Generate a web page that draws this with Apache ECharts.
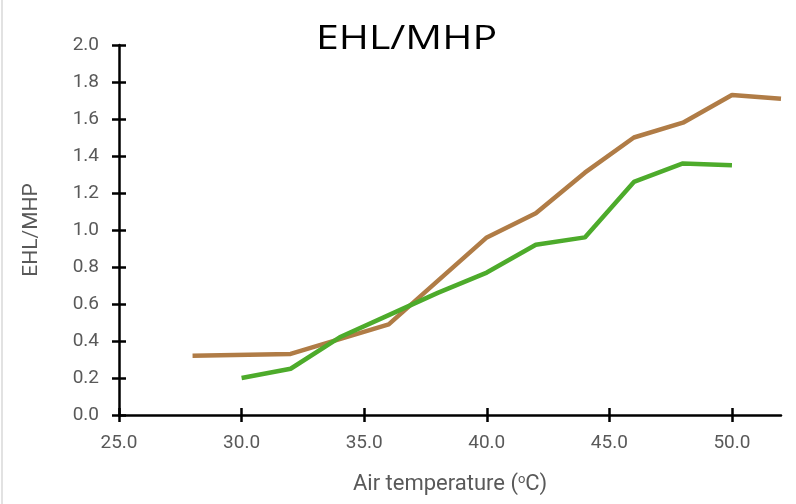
<!DOCTYPE html>
<html>
<head>
<meta charset="utf-8">
<script src="https://cdn.jsdelivr.net/npm/echarts@6/dist/echarts.min.js"></script>
<style>html,body{margin:0;padding:0;background:#fff}#c{width:796px;height:504px}</style>
</head>
<body>
<div id="c"></div>
<script>
// Data
var brownX = [28, 32, 36, 40, 42, 44, 46, 48, 50, 52];
var brownY = [0.32, 0.33, 0.49, 0.96, 1.09, 1.31, 1.50, 1.58, 1.73, 1.71];
var greenX = [30, 32, 34, 36, 38, 40, 42, 44, 46, 48, 50];
var greenY = [0.20, 0.25, 0.42, 0.54, 0.66, 0.77, 0.92, 0.96, 1.26, 1.36, 1.35];
var xTicks = [25, 30, 35, 40, 45, 50];
var titleText = 'EHL/MHP';
var yName = 'EHL/MHP';

function pairs(xs, ys) { return xs.map(function (x, i) { return [x, ys[i]]; }); }

var chart = echarts.init(document.getElementById('c'), null, {renderer: 'canvas'});
var labelStyle = {color: '#595959', fontFamily: 'Roboto', fontSize: 19};
var axisMain = {lineStyle: {color: '#000', width: 2.5}};
var tickStyle = {lineStyle: {color: '#000', width: 2.5}, length: 7};

chart.setOption({
  animation: false,
  backgroundColor: '#fff',
  graphic: [
    {type: 'text', x: 316, y: 24, scaleX: 1.28,
      style: {text: titleText, font: '32px "Open Sans"', fill: '#000'}},
    {type: 'line', shape: {x1: 2, y1: 0, x2: 2, y2: 504}, style: {stroke: '#d9d9d9', lineWidth: 1.5}}
  ],
  grid: {left: 119, right: 15, top: 45, bottom: 89},
  xAxis: [{
    type: 'value', min: 25, max: 52,
    axisLine: axisMain,
    axisTick: Object.assign({customValues: xTicks, inside: false}, tickStyle),
    axisLabel: Object.assign({customValues: xTicks, margin: 19, formatter: function (v) { return v.toFixed(1); }}, labelStyle),
    splitLine: {show: false},
    name: 'Air temperature ({s|o}C)',
    nameLocation: 'middle', nameGap: 58,
    nameTextStyle: {color: '#595959', fontFamily: 'Roboto', fontSize: 22,
      rich: {s: {fontSize: 13, verticalAlign: 'top', color: '#595959', fontFamily: 'Roboto', padding: [0, 0, 10, 0]}}}
  }, {
    type: 'value', min: 25, max: 52, position: 'bottom',
    axisLine: {show: false},
    axisTick: Object.assign({customValues: xTicks, inside: true}, tickStyle),
    axisLabel: {show: false}, splitLine: {show: false}
  }],
  yAxis: [{
    type: 'value', min: 0, max: 2, interval: 0.2,
    axisLine: Object.assign({show: true}, axisMain),
    axisTick: Object.assign({show: true, inside: false}, tickStyle),
    axisLabel: Object.assign({margin: 20, formatter: function (v) { return v.toFixed(1); }}, labelStyle),
    splitLine: {show: false},
    name: yName, nameLocation: 'middle', nameGap: 77, nameRotate: 90,
    nameTextStyle: {color: '#595959', fontFamily: 'Roboto', fontSize: 21}
  }, {
    type: 'value', min: 0, max: 2, interval: 0.2, position: 'left',
    axisLine: {show: false},
    axisTick: Object.assign({show: true, inside: true}, tickStyle),
    axisLabel: {show: false}, splitLine: {show: false}
  }],
  series: [{
    type: 'line', xAxisIndex: 0, yAxisIndex: 0, data: pairs(brownX, brownY),
    symbol: 'none', lineStyle: {color: '#b07c46', width: 4.5}, clip: true
  }, {
    type: 'line', xAxisIndex: 0, yAxisIndex: 0, data: pairs(greenX, greenY),
    symbol: 'none', lineStyle: {color: '#4dab2b', width: 4.5}, clip: true
  }]
});
</script>
</body>
</html>
